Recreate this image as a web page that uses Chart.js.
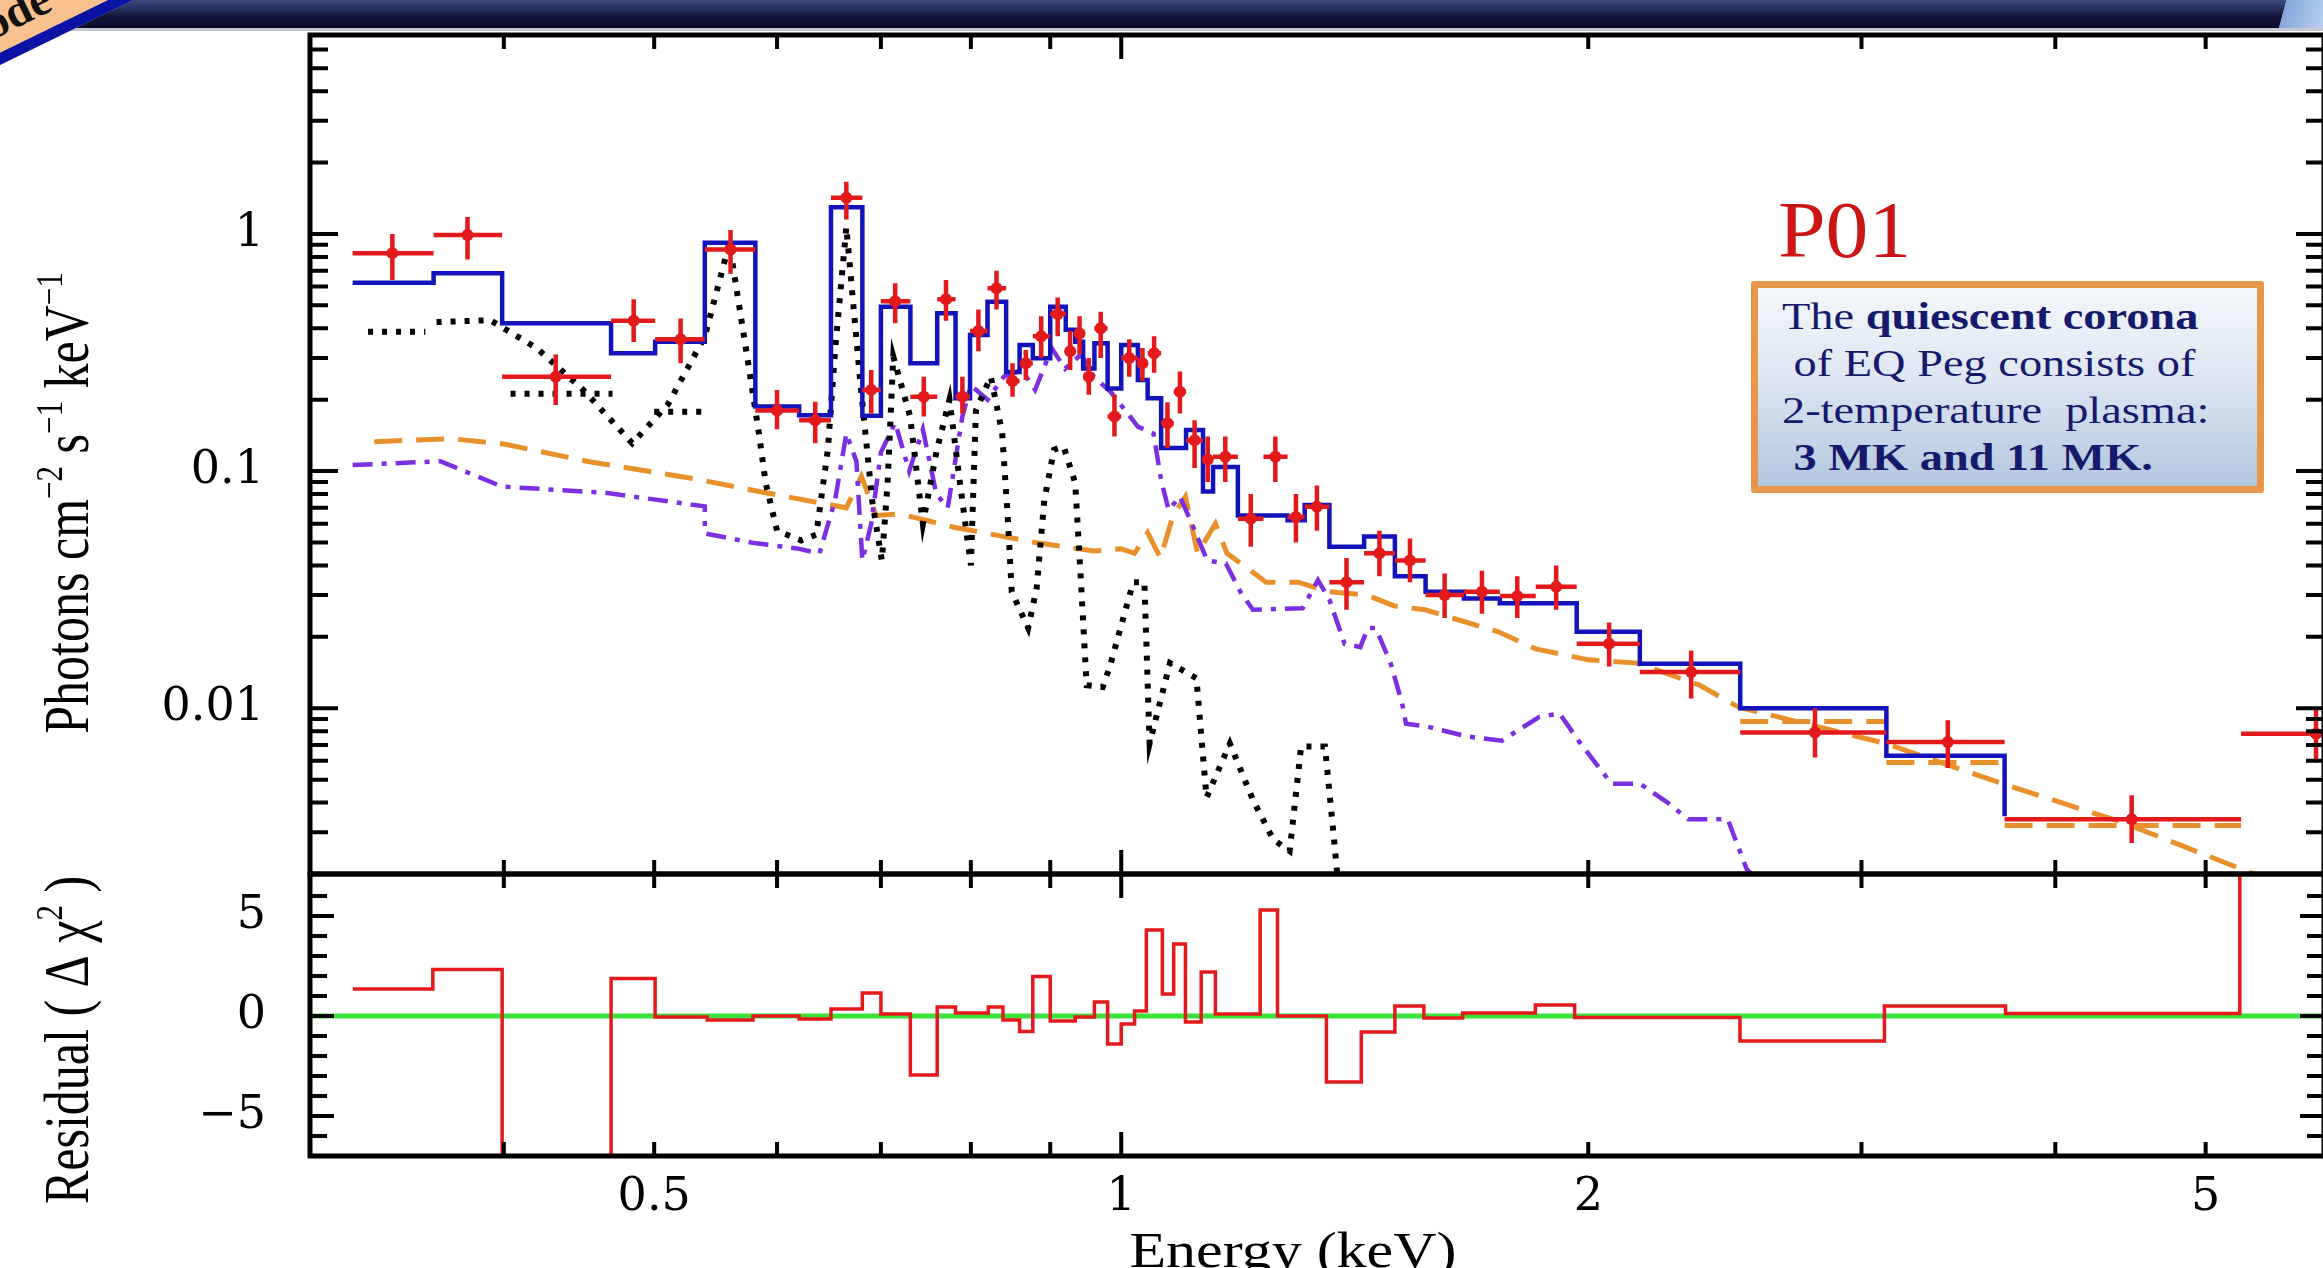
<!DOCTYPE html>
<html lang="en">
<head>
<meta charset="UTF-8">
<title>EQ Peg P01 - quiescent spectrum</title>
<script src="https://cdn.jsdelivr.net/npm/chart.js"></script>
<style>
  html, body { margin: 0; padding: 0; background: #fff; overflow: hidden; }
  #page { position: relative; width: 2323px; height: 1268px; overflow: hidden; background: #fff; }
  #page canvas { position: absolute; left: 0; top: 0; }
  #banner { position: absolute; left: 0; top: 0; width: 2323px; height: 28px;
            background: linear-gradient(180deg, #3b4b80 0%, #26315f 30%, #12153a 60%, #0b0b24 100%); }
  #bannerEdge { position: absolute; left: 0; top: 28px; width: 2323px; height: 3px; background: #c5c8d2; }
  #bannerEnd { position: absolute; left: 2262px; top: 0; width: 61px; height: 28px;
               background: linear-gradient(105deg, rgba(0,0,0,0) 0%, rgba(0,0,0,0) 35%, #86a6dc 36%, #b9cff0 100%); }
  #ribbon { position: absolute; left: 0; top: -25px; width: 260px; height: 90px; box-sizing: border-box;
            background: #f8c18e; border-bottom: 11px solid #0b12a6; transform-origin: 0 100%;
            transform: rotate(-26deg); overflow: hidden; }
  #ribbon span { position: absolute; left: 4px; bottom: 4px; font: bold 46px "Liberation Serif", serif; color: #111; }
  #tag { position: absolute; left: 1778px; top: 190px; font: 80px/1 "Liberation Serif", serif; color: #cc1616;
         transform: scaleX(1.07); transform-origin: left top; }
  #note { position: absolute; left: 1751px; top: 281px; width: 513px; height: 212px; box-sizing: border-box;
          border: 7px solid #e8964c; border-radius: 3px;
          background: linear-gradient(180deg, #f4f7fb 0%, #dde6f2 45%, #b3c7df 100%); }
  #note .txt { position: absolute; left: 24px; top: 5px; font: 38px/47px "Liberation Serif", serif; color: #161a6c;
               white-space: pre; transform: scaleX(1.22); transform-origin: left top; }
</style>
</head>
<body>
<div id="page">
  <div id="banner"></div>
  <div id="bannerEdge"></div>
  <div id="bannerEnd"></div>
  <div id="ribbon"><span>ode</span></div>
  <canvas id="specChart" width="2340" height="1268"></canvas>
  <canvas id="residChart" width="2340" height="1268"></canvas>
  <div id="tag">P01</div>
  <div id="note"><div class="txt">The <b>quiescent corona</b>
 of EQ Peg consists of
2-temperature  plasma:
 <b>3 MK and 11 MK.</b></div></div>
</div>

<script>
// ---- axes ----
const energyRange = [0.3, 5.96];
const energyTicks = [0.3, 0.4, 0.5, 0.6, 0.7, 0.8, 0.9, 1, 2, 3, 4, 5];
const energyTickLabels = ['', '', '0.5', '', '', '', '', '1', '2', '', '', '5'];

const fluxRange = [0.002, 6.9];
const fluxTicks = [0.002, 0.003, 0.004, 0.005, 0.006, 0.007, 0.008, 0.009,
                   0.01, 0.02, 0.03, 0.04, 0.05, 0.06, 0.07, 0.08, 0.09,
                   0.1, 0.2, 0.3, 0.4, 0.5, 0.6, 0.7, 0.8, 0.9,
                   1, 2, 3, 4, 5, 6];
const fluxTickLabels = ['', '', '', '', '', '', '', '',
                        '0.01', '', '', '', '', '', '', '', '',
                        '0.1', '', '', '', '', '', '', '', '',
                        '1', '', '', '', '', ''];
const fluxMajor = [0.01, 0.1, 1];

const residRange = [-7, 7.1];
const residTicks = [-7, -6, -5, -4, -3, -2, -1, 0, 1, 2, 3, 4, 5, 6, 7];
const residTickLabels = ['', '', '\u22125', '', '', '', '', '0', '', '', '', '', '5', '', ''];
const residMajor = [-5, 0, 5];

// ---- total model (blue histogram), keV bin edges ----
const modelEdges = [0.3196, 0.3604, 0.399, 0.469, 0.5007, 0.539, 0.581, 0.62, 0.65, 0.681, 0.70, 0.7313,
  0.761, 0.782, 0.799, 0.82, 0.843, 0.86, 0.877, 0.90, 0.921, 0.934, 0.945, 0.961, 0.98, 1.0, 1.025, 1.04,
  1.061, 1.101, 1.129, 1.146, 1.189, 1.28, 1.313, 1.362, 1.434, 1.501, 1.571, 1.663, 1.754, 1.966, 2.159,
  2.506, 3.113, 3.71, 5.27, 5.96];
const modelFlux = [0.623, 0.683, 0.42, 0.314, 0.351, 0.919, 0.187, 0.172, 1.296, 0.171, 0.493, 0.285,
  0.463, 0.203, 0.375, 0.518, 0.262, 0.34, 0.299, 0.493, 0.394, 0.351, 0.271, 0.346, 0.223, 0.34, 0.242,
  0.203, 0.125, 0.149, 0.082, 0.104, 0.065, 0.062, 0.072, 0.048, 0.053, 0.036, 0.031, 0.029, 0.0277,
  0.021, 0.0154, 0.0100, 0.0063, 0.0035, 0];

// ---- observed spectrum (red crosses) ----
const dataLo = [0.3196, 0.3604, 0.399, 0.469, 0.5007, 0.539, 0.581, 0.62, 0.65, 0.681, 0.70, 0.7313, 0.761,
  0.782, 0.799, 0.82, 0.843, 0.86, 0.877, 0.90, 0.921, 0.934, 0.945, 0.961, 0.98, 1.0, 1.025, 1.04, 1.061,
  1.081, 1.101, 1.129, 1.146, 1.189, 1.235, 1.28, 1.313, 1.362, 1.434, 1.501, 1.571, 1.663, 1.754, 1.85,
  1.966, 2.159, 2.506, 3.113, 3.71, 5.27];
const dataHi = [0.3604, 0.399, 0.469, 0.5007, 0.539, 0.581, 0.62, 0.65, 0.681, 0.70, 0.7313, 0.761, 0.782,
  0.799, 0.82, 0.843, 0.86, 0.877, 0.90, 0.921, 0.934, 0.945, 0.961, 0.98, 1.0, 1.025, 1.04, 1.061, 1.081,
  1.101, 1.129, 1.146, 1.189, 1.235, 1.28, 1.313, 1.362, 1.434, 1.501, 1.571, 1.663, 1.754, 1.85, 1.966,
  2.159, 2.506, 3.113, 3.71, 5.27, 6.6];
const dataE = [0.339, 0.379, 0.432, 0.485, 0.52, 0.56, 0.60, 0.635, 0.665, 0.69, 0.715, 0.746, 0.771, 0.79,
  0.809, 0.831, 0.851, 0.868, 0.888, 0.91, 0.927, 0.94, 0.953, 0.97, 0.99, 1.012, 1.032, 1.05, 1.071, 1.091,
  1.115, 1.137, 1.167, 1.212, 1.257, 1.296, 1.337, 1.397, 1.467, 1.535, 1.616, 1.708, 1.80, 1.907, 2.063,
  2.33, 2.80, 3.41, 4.48, 5.89];
const dataFlux = [0.83, 0.99, 0.25, 0.43, 0.36, 0.86, 0.18, 0.164, 1.42, 0.22, 0.52, 0.206, 0.53, 0.206,
  0.39, 0.59, 0.24, 0.285, 0.37, 0.46, 0.32, 0.38, 0.25, 0.40, 0.17, 0.30, 0.285, 0.314, 0.159, 0.216,
  0.135, 0.112, 0.115, 0.063, 0.115, 0.064, 0.0707, 0.034, 0.045, 0.042, 0.030, 0.031, 0.0297, 0.0325,
  0.0187, 0.0142, 0.0079, 0.0072, 0.0034, 0.0078];
const dataFluxLo = [0.64, 0.78, 0.19, 0.35, 0.285, 0.68, 0.15, 0.131, 1.15, 0.175, 0.42, 0.17, 0.43, 0.175,
  0.32, 0.48, 0.206, 0.242, 0.30, 0.37, 0.267, 0.31, 0.21, 0.30, 0.14, 0.25, 0.24, 0.26, 0.125, 0.175,
  0.103, 0.09, 0.09, 0.048, 0.09, 0.05, 0.056, 0.026, 0.036, 0.034, 0.024, 0.025, 0.024, 0.026, 0.015,
  0.011, 0.0062, 0.0056, 0.0027, 0.0059];
const dataFluxHi = [1.0, 1.18, 0.31, 0.53, 0.44, 1.04, 0.22, 0.196, 1.66, 0.267, 0.62, 0.25, 0.64, 0.25,
  0.48, 0.70, 0.285, 0.324, 0.45, 0.54, 0.39, 0.45, 0.30, 0.47, 0.21, 0.36, 0.33, 0.37, 0.195, 0.263,
  0.164, 0.14, 0.14, 0.08, 0.14, 0.08, 0.087, 0.043, 0.056, 0.052, 0.037, 0.038, 0.036, 0.040, 0.023,
  0.0175, 0.010, 0.0089, 0.0043, 0.010];

// ---- model components (null = gap in the curve) ----
const blackE = [0.327, 0.356, 0.359, 0.362, 0.392, 0.42, 0.45, 0.484, 0.51, 0.539, 0.559, 0.574, 0.584,
  0.59, 0.60, 0.622, 0.636, 0.647, 0.654, 0.665, 0.679, 0.691, 0.701, 0.707, 0.713, 0.719, 0.731, 0.745,
  0.76, 0.775, 0.787, 0.80, 0.806, 0.824, 0.838, 0.845, 0.85, 0.871, 0.882, 0.892, 0.905, 0.918, 0.934,
  0.942, 0.95, 0.973, 0.983, 1.018, 1.035, 1.043, 1.075, 1.118, 1.135, 1.175, 1.216, 1.253, 1.284, 1.306,
  1.353, 1.37, 1.38, 1.39, 0.404, 0.47, 0.48, 0.50, 0.54];
const blackF = [0.387, 0.387, null, 0.425, 0.433, 0.33, 0.22, 0.131, 0.19, 0.369, 0.914, 0.304, 0.145,
  0.089, 0.056, 0.051, 0.054, 0.123, 0.324, 1.07, 0.235, 0.075, 0.042, 0.089, 0.304, 0.25, 0.17, 0.06,
  0.12, 0.2, 0.09, 0.04, 0.18, 0.25, 0.145, 0.064, 0.031, 0.0218, 0.032, 0.075, 0.123, 0.127, 0.089,
  0.034, 0.0125, 0.0123, 0.0149, 0.034, 0.034, 0.0071, 0.0155, 0.0134, 0.0042, 0.0071, 0.0041, 0.0028,
  0.0025, 0.0069, 0.0069, 0.003, 0.0018, null, 0.212, 0.212, null, 0.178, 0.178];

const purpleE = [0.3196, 0.364, 0.399, 0.465, 0.539, 0.539, 0.58, 0.618, 0.639, 0.654, 0.665, 0.675, 0.681,
  0.69, 0.70, 0.715, 0.73, 0.745, 0.76, 0.773, 0.79, 0.80, 0.82, 0.84, 0.863, 0.88, 0.902, 0.92, 0.942,
  0.96, 0.985, 1.025, 1.049, 1.055, 1.061, 1.073, 1.091, 1.113, 1.136, 1.168, 1.195, 1.216, 1.309, 1.339,
  1.362, 1.393, 1.426, 1.442, 1.459, 1.492, 1.517, 1.526, 1.571, 1.671, 1.759, 1.86, 1.917, 1.971, 2.07,
  2.16, 2.25, 2.32, 2.46, 2.53, 2.65];
const purpleF = [0.106, 0.11, 0.086, 0.081, 0.071, 0.0546, 0.0497, 0.0472, 0.045, 0.0755, 0.144, 0.11,
  0.042, 0.06, 0.12, 0.16, 0.1, 0.15, 0.08, 0.07, 0.17, 0.23, 0.2, 0.25, 0.266, 0.22, 0.33, 0.27, 0.31,
  0.25, 0.215, 0.154, 0.144, 0.115, 0.0915, 0.0685, 0.0782, 0.058, 0.042, 0.0408, 0.0305, 0.026, 0.0264,
  0.0347, 0.0287, 0.0187, 0.0181, 0.0218, 0.0218, 0.0154, 0.0105, 0.0086, 0.0084, 0.0076, 0.0073, 0.0092,
  0.0095, 0.0073, 0.0048, 0.0048, 0.004, 0.0034, 0.0034, 0.0021, 0.0015];

const orangeE = [0.33, 0.37, 0.40, 0.456, 0.53, 0.59, 0.65, 0.665, 0.68, 0.695, 0.72, 0.78, 0.88, 0.96,
  1.0, 1.02, 1.04, 1.06, 1.08, 1.10, 1.12, 1.15, 1.17, 1.24, 1.30, 1.36, 1.44, 1.50, 1.57, 1.75, 1.85, 2.0,
  2.15, 2.36, 2.5, 3.11, 3.7, 4.42, 5.27, 6.0, 2.5, 2.506, 3.113, 3.113, 3.113, 3.71, 3.71, 3.71, 5.27];
const orangeF = [0.133, 0.137, 0.13, 0.109, 0.093, 0.081, 0.072, 0.07, 0.095, 0.065, 0.066, 0.058, 0.050,
  0.046, 0.047, 0.045, 0.055, 0.043, 0.065, 0.078, 0.045, 0.06, 0.045, 0.034, 0.034, 0.031, 0.030, 0.027,
  0.026, 0.021, 0.0178, 0.016, 0.0155, 0.0125, 0.0101, 0.0071, 0.0048, 0.0033, 0.0021, 0.0015, null,
  0.0088, 0.0088, null, 0.0059, 0.0059, null, 0.0032, 0.0032];

// ---- residuals (delta chi^2) ----
const resEdges = [0.3197, 0.36, 0.399, 0.469, 0.5007, 0.541, 0.579, 0.62, 0.65, 0.681, 0.70, 0.7313, 0.761,
  0.782, 0.821, 0.839, 0.86, 0.877, 0.90, 0.934, 0.961, 0.98, 1.0, 1.02, 1.038, 1.063, 1.081, 1.10, 1.126,
  1.15, 1.229, 1.261, 1.356, 1.428, 1.501, 1.567, 1.66, 1.849, 1.96, 2.505, 3.104, 3.715, 5.26, 5.96];
const resValues = [1.35, 2.33, -12, 1.88, -0.05, -0.2, 0.0, -0.15, 0.35, 1.15, 0.1, -2.95, 0.45, 0.15,
  0.45, -0.2, -0.77, 1.97, -0.25, -0.05, 0.7, -1.4, -0.4, 0.25, 4.3, 1.1, 3.6, -0.3, 2.2, 0.1, 5.3, 0.0,
  -3.3, -0.8, 0.5, -0.1, 0.15, 0.55, -0.08, -1.25, 0.5, 0.13, 40];
const zeroLineE = [0.3, 5.96];
const zeroLineR = [0, 0];

// ---- titles ----
const fluxTitle = [{t: 'Photons cm'}, {t: '\u22122', sup: true}, {t: ' s'}, {t: '\u22121', sup: true},
                   {t: ' keV'}, {t: '\u22121', sup: true}];
const residTitle = [{t: 'Residual ( \u0394 \u03c7'}, {t: '2', sup: true}, {t: ' )'}];
const energyTitle = [{t: 'Energy (keV)'}];

const RED = '#e3191c', BLUE = '#1313bb', PURPLE = '#7b2fe0', ORANGE = '#e8912c', GREEN = '#3be03b';

Chart.defaults.font.family = '"DejaVu Serif", serif';
Chart.defaults.color = '#000';

function xy(xs, ys) { return xs.map((x, i) => ({x: x, y: ys[i]})); }

function stepPoints(edges, vals) {
  const pts = vals.map((v, i) => ({x: edges[i], y: v}));
  pts.push({x: edges[edges.length - 1], y: vals[vals.length - 1]});
  return pts;
}

const hBars = [], vBars = [], centres = [];
dataE.forEach((e, i) => {
  hBars.push({x: dataLo[i], y: dataFlux[i]}, {x: dataHi[i], y: dataFlux[i]}, {x: dataHi[i], y: null});
  vBars.push({x: e, y: dataFluxLo[i]}, {x: e, y: dataFluxHi[i]}, {x: e, y: null});
  centres.push({x: e, y: dataFlux[i]});
});

// left axis box is 310 px wide, so the plot frame starts at x = 310
const AXIS_W = 310;

function energyAxis(showLabels, boxHeight) {
  return {
    type: 'logarithmic', min: energyRange[0], max: energyRange[1], bounds: 'data',
    afterBuildTicks: s => { s.ticks = energyTicks.map(v => ({value: v})); },
    afterFit: s => { s.height = boxHeight; s.paddingLeft = 0; s.paddingRight = 0; },
    grid: {display: false, drawTicks: false}, border: {display: false},
    ticks: {display: showLabels, autoSkip: false, maxRotation: 0, padding: 14,
            font: {size: 46}, callback: (v, i) => energyTickLabels[i]}
  };
}

function valueAxis(type, range, ticks, labels, pad) {
  return {
    type: type, min: range[0], max: range[1], bounds: 'data',
    afterBuildTicks: s => { s.ticks = ticks.map(v => ({value: v})); },
    afterFit: s => { s.width = AXIS_W; s.paddingTop = 0; s.paddingBottom = 0; },
    grid: {display: false, drawTicks: false}, border: {display: false},
    ticks: {autoSkip: false, padding: pad, font: {size: 46}, callback: (v, i) => labels[i]}
  };
}

// frame + inward tick marks on all four sides
function frameTicks(yTicks, yMajor, majorLen, minorLen) {
  return {
    id: 'frameTicks',
    afterDatasetsDraw(chart) {
      const ctx = chart.ctx, a = chart.chartArea;
      const xs = chart.scales.x, ys = chart.scales.y;
      ctx.save();
      ctx.strokeStyle = '#000';
      ctx.lineWidth = 4;
      ctx.beginPath();
      energyTicks.forEach(v => {
        const px = xs.getPixelForValue(v);
        if (px < a.left + 3 || px > a.right - 3) return;
        const len = v === 1 ? 24 : 14;
        ctx.moveTo(px, a.top); ctx.lineTo(px, a.top + len);
        ctx.moveTo(px, a.bottom); ctx.lineTo(px, a.bottom - len);
      });
      yTicks.forEach(v => {
        const py = ys.getPixelForValue(v);
        if (py < a.top + 3 || py > a.bottom - 3) return;
        const len = yMajor.some(m => Math.abs(m - v) < 1e-9) ? majorLen : minorLen;
        ctx.moveTo(a.left, py); ctx.lineTo(a.left + len, py);
        ctx.moveTo(a.right, py); ctx.lineTo(a.right - len, py);
      });
      ctx.stroke();
      ctx.lineWidth = 5;
      ctx.strokeRect(a.left, a.top, a.right - a.left, a.bottom - a.top);
      ctx.restore();
    }
  };
}

function drawRuns(ctx, runs, size) {
  const base = size + 'px "Liberation Serif", serif';
  const small = Math.round(size * 0.62) + 'px "Liberation Serif", serif';
  const widths = runs.map(r => { ctx.font = r.sup ? small : base; return ctx.measureText(r.t).width; });
  let x = -widths.reduce((s, w) => s + w, 0) / 2;
  runs.forEach((r, i) => {
    ctx.font = r.sup ? small : base;
    ctx.fillText(r.t, x, r.sup ? -size * 0.42 : 0);
    x += widths[i];
  });
}

const axisTitles = {
  id: 'axisTitles',
  afterDraw(chart) {
    const ctx = chart.ctx;
    ctx.save();
    ctx.fillStyle = '#000';
    ctx.textAlign = 'left';
    ctx.textBaseline = 'alphabetic';
    [[fluxTitle, 503], [residTitle, 1040]].forEach(([runs, cy]) => {
      ctx.save();
      ctx.translate(88, cy);
      ctx.rotate(-Math.PI / 2);
      ctx.scale(1, 1.25);
      drawRuns(ctx, runs, 50);
      ctx.restore();
    });
    ctx.save();
    ctx.translate(1293, 1267);
    ctx.scale(1.2, 1);
    drawRuns(ctx, energyTitle, 50);
    ctx.restore();
    ctx.restore();
  }
};

const baseOptions = {
  responsive: false, animation: false, events: [],
  plugins: {legend: {display: false}, tooltip: {enabled: false}},
  elements: {point: {radius: 0}, line: {tension: 0, fill: false}}
};

// upper panel: unfolded spectrum
new Chart(document.getElementById('specChart'), {
  type: 'line',
  data: {
    datasets: [
      {data: centres, showLine: false, pointRadius: 6, pointBackgroundColor: RED, pointBorderWidth: 0},
      {data: hBars, borderColor: RED, borderWidth: 4.5},
      {data: vBars, borderColor: RED, borderWidth: 4.5},
      {data: stepPoints(modelEdges, modelFlux), stepped: true, borderColor: BLUE, borderWidth: 4.5},
      {data: xy(blackE, blackF), borderColor: '#000', borderWidth: 6, borderDash: [5, 9]},
      {data: xy(purpleE, purpleF), borderColor: PURPLE, borderWidth: 4.5, borderDash: [20, 9, 5, 9]},
      {data: xy(orangeE, orangeF), borderColor: ORANGE, borderWidth: 5, borderDash: [28, 14]}
    ]
  },
  options: Object.assign({}, baseOptions, {
    layout: {padding: {left: 0, right: 16, top: 35, bottom: 394}},
    scales: {
      x: energyAxis(false, 0),
      y: valueAxis('logarithmic', fluxRange, fluxTicks, fluxTickLabels, 46)
    }
  }),
  plugins: [frameTicks(fluxTicks, fluxMajor, 28, 18)]
});

// lower panel: residuals
new Chart(document.getElementById('residChart'), {
  type: 'line',
  data: {
    datasets: [
      {data: stepPoints(resEdges, resValues), stepped: true, borderColor: RED, borderWidth: 3.5},
      {data: xy(zeroLineE, zeroLineR), borderColor: GREEN, borderWidth: 5}
    ]
  },
  options: Object.assign({}, baseOptions, {
    layout: {padding: {left: 0, right: 16, top: 874, bottom: 0}},
    scales: {
      x: energyAxis(true, 112),
      y: valueAxis('linear', residRange, residTicks, residTickLabels, 44)
    }
  }),
  plugins: [frameTicks(residTicks, residMajor, 24, 17), axisTitles]
});
</script>
</body>
</html>
